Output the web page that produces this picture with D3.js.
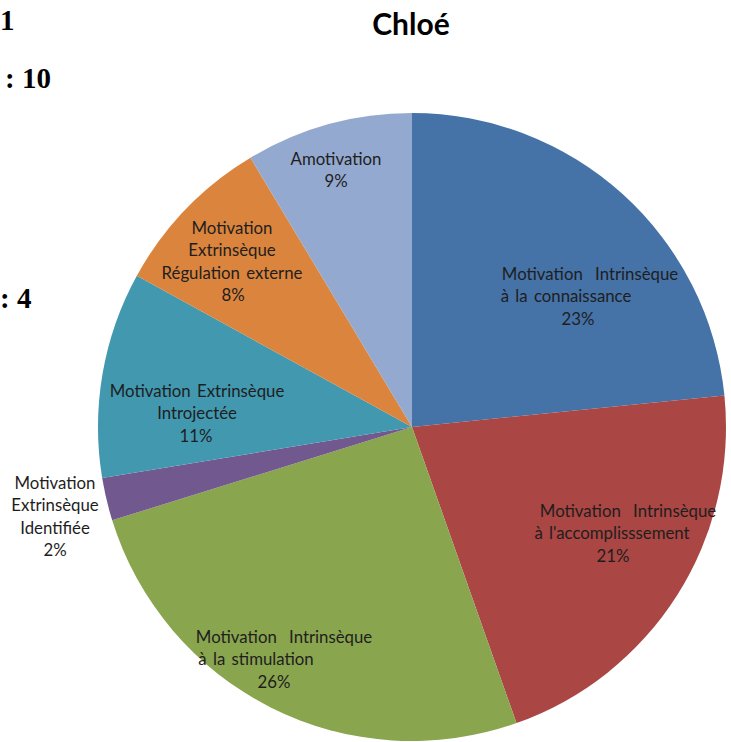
<!DOCTYPE html>
<html><head><meta charset="utf-8">
<script src="https://cdn.jsdelivr.net/npm/d3@7"></script>
<style>
html,body{margin:0;padding:0;background:#fff;}
svg{display:block;}
</style></head>
<body>
<script>
// ---- data ----
const categories = [
  "Motivation Intrinsèque à la connaissance",
  "Motivation Intrinsèque à l'accomplisssement",
  "Motivation Intrinsèque à la stimulation",
  "Motivation Extrinsèque Identifiée",
  "Motivation Extrinsèque Introjectée",
  "Motivation Extrinsèque Régulation externe",
  "Amotivation"
];
const values = [23.4, 21.2, 25.6, 2.2, 10.6, 8.4, 8.6];
const labelLines = [
  ["Motivation Intrinsèque", "à la connaissance"],
  ["Motivation Intrinsèque", "à l'accomplisssement"],
  ["Motivation Intrinsèque", "à la stimulation"],
  ["Motivation", "Extrinsèque", "Identifiée"],
  ["Motivation Extrinsèque", "Introjectée"],
  ["Motivation", "Extrinsèque", "Régulation externe"],
  ["Amotivation"]
];
const colors = ["#4572A7", "#AA4643", "#89A54E", "#71588F", "#4198AF", "#DB843D", "#93A9CF"];
const title = "Chloé";

// ---- layout (label placement, pixels) ----
const W = 731, H = 742;
const cx = 412, cy = 427, R = 314;
// per label: x center of each line (text lines then percent), y center of first line
const labelLayout = [
  {xs: [590, 566, 578], y: 273},
  {xs: [628, 612, 613], y: 510},
  {xs: [284, 256, 274], y: 636},
  {xs: [55, 55, 55, 55], y: 482},
  {xs: [197, 197, 196], y: 390},
  {xs: [232, 232, 232, 233], y: 227},
  {xs: [336, 336], y: 158}
];
const lineH = 22.5;

const svg = d3.select("body").append("svg").attr("width", W).attr("height", H);

const pie = d3.pie().sort(null).value(d => d);
const arcs = pie(values);
const arc = d3.arc().innerRadius(0).outerRadius(R);

const g = svg.append("g").attr("transform", `translate(${cx},${cy})`);
g.selectAll("path").data(arcs).enter().append("path")
  .attr("d", arc)
  .attr("fill", (d, i) => colors[i]);

const total = d3.sum(values);
const fmt = v => Math.round(v / total * 100) + "%";

const lab = svg.append("g")
  .attr("font-family", "Lato, 'Open Sans', sans-serif")
  .attr("font-size", 16.8)
  .attr("fill", "#1e1e1e")
  .attr("text-anchor", "middle");

labelLines.forEach((lines, i) => {
  const L = labelLayout[i];
  const all = lines.concat([fmt(values[i])]);
  all.forEach((t, j) => {
    lab.append("text")
      .attr("x", L.xs[j])
      .attr("y", L.y + j * lineH)
      .attr("dominant-baseline", "central")
      .attr("word-spacing", t === "Motivation Intrinsèque" ? 8 : 2)
      .text(t);
  });
});

svg.append("text")
  .attr("x", 411).attr("y", 23)
  .attr("text-anchor", "middle")
  .attr("dominant-baseline", "central")
  .attr("font-family", "Lato, 'Open Sans', sans-serif")
  .attr("font-weight", "bold")
  .attr("font-size", 30)
  .attr("fill", "#000")
  .text(title);

// document text fragments at left edge
const frag = svg.append("g")
  .attr("font-family", "'Liberation Serif', 'Times New Roman', serif")
  .attr("font-weight", "bold")
  .attr("font-size", 29)
  .attr("fill", "#000");
frag.append("text").attr("x", 0).attr("y", 30).text("1");
frag.append("text").attr("x", 5).attr("y", 88).text(": 10");
frag.append("text").attr("x", 0).attr("y", 308).text(": 4");
</script>
</body></html>
